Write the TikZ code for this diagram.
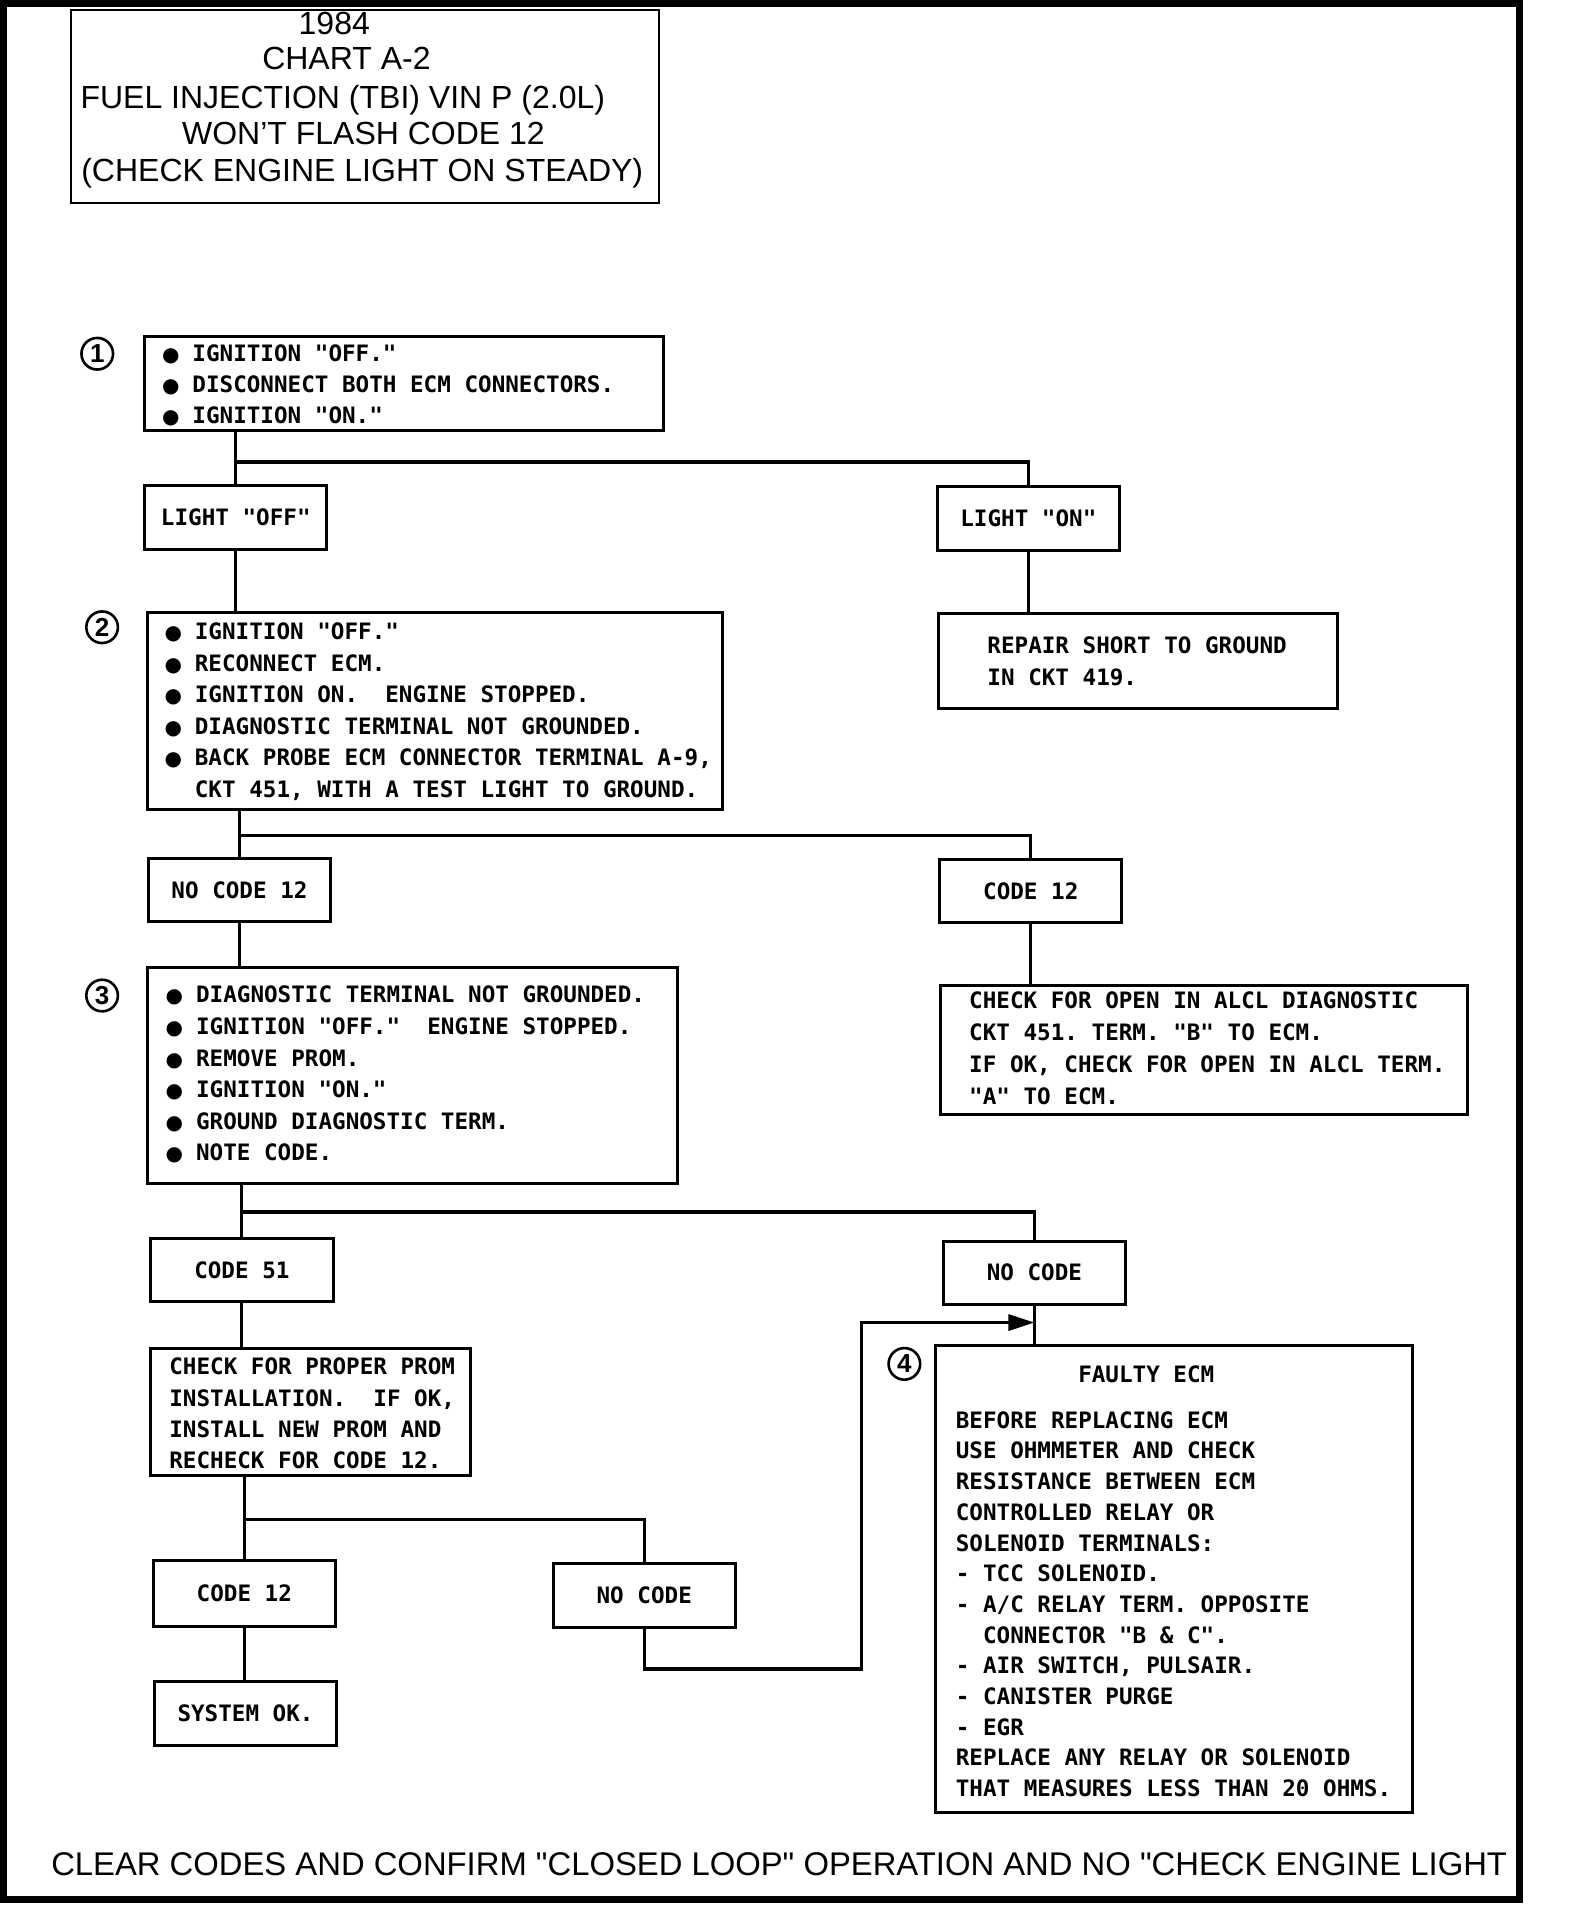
\documentclass[tikz,border=0pt]{standalone}
\usepackage{fontspec}
\usetikzlibrary{fit,arrows.meta}
\setmainfont{Liberation Sans}
\newfontfamily\monob{DejaVu Sans Mono Bold}
\newfontfamily\bulfont{DejaVu Sans}
\newlength\uu \setlength\uu{0.6078pt}
\frenchspacing
\newcommand\mlines[2]{\vtop{\baselineskip=#1\uu\lineskiplimit=-100pt\lineskip=0pt\halign{##\hfil\cr#2\crcr}}}
\newcommand\blt{\makebox[25\uu][l]{\bulfont\fontsize{10}{10}\selectfont ●}}
\newcommand\nob{\hspace*{25\uu}}
\begin{document}
\begin{tikzpicture}[x=\uu,y=-\uu,
 box/.style={draw,line width=1.5pt,inner sep=0pt},
 sbox/.style={box,lbl,minimum width=150\uu,minimum height=53\uu},
 conn/.style={line width=1.6pt},
 lbl/.style={font=\monob\fontsize{11.3}{15.8}\selectfont},
 txt/.style={lbl,anchor=base west,inner sep=0pt},
 numc/.style={draw,circle,line width=1.3pt,minimum size=26\uu,inner sep=0pt,font=\bfseries\fontsize{13}{13}\selectfont},
 ttl/.style={anchor=base,inner sep=0pt,font=\fontsize{16}{16}\selectfont}]
\useasboundingbox (0,0) rectangle (1290,1568);
\draw[line width=3.5pt] (3,2.5) rectangle (1250,1563);
% title
\node[draw,line width=1pt,inner sep=0pt,fit={(58,8)(542,167)}] (title) {};
\node[ttl] (t1) at (275,28) {1984};
\node[ttl] (t2) at (285,57) {CHART A-2};
\node[ttl] (t3) at (282,89) {FUEL INJECTION (TBI) VIN P (2.0L)};
\node[ttl] (t4) at (299,119) {WON'T FLASH CODE 12};
\node[ttl] (t5) at (298,149) {(CHECK ENGINE LIGHT ON STEADY)};
% step 1
\node[box,fit={(119,277)(546,354)}] (s1) {};
\node[numc] (n1) at (80,291) {1};
\node[txt] (s1t) at (133,297) {\mlines{25.5}{\blt IGNITION "OFF."\cr
 \blt DISCONNECT BOTH ECM CONNECTORS.\cr
 \blt IGNITION "ON."}};
\node[sbox] (lo) at (194,425.5) {LIGHT "OFF"};
\node[sbox] (lon) at (846,426.5) {LIGHT "ON"};
\node[box,fit={(772,505)(1100,583)}] (rep) {};
\node[txt] (rept) at (812,538) {\mlines{26}{REPAIR SHORT TO GROUND\cr IN CKT 419.}};
% step 2
\node[box,fit={(121,504)(594,666)}] (s2) {};
\node[numc] (n2) at (84,516) {2};
\node[txt] (s2t) at (135,526) {\mlines{26}{\blt IGNITION "OFF."\cr
 \blt RECONNECT ECM.\cr
 \blt IGNITION ON.~~ENGINE STOPPED.\cr
 \blt DIAGNOSTIC TERMINAL NOT GROUNDED.\cr
 \blt BACK PROBE ECM CONNECTOR TERMINAL A-9,\cr
 \nob CKT 451, WITH A TEST LIGHT TO GROUND.}};
\node[sbox,minimum height=52\uu] (nc12) at (197,732) {NO CODE 12};
\node[sbox,minimum height=52\uu] (c12) at (848,733) {CODE 12};
\node[box,fit={(774,811)(1207,917)}] (open) {};
\node[txt] (opent) at (797,830) {\mlines{26.3}{CHECK FOR OPEN IN ALCL DIAGNOSTIC\cr
 CKT 451. TERM. "B" TO ECM.\cr
 IF OK, CHECK FOR OPEN IN ALCL TERM.\cr
 "A" TO ECM.}};
% step 3
\node[box,fit={(121,796)(557,974)}] (s3) {};
\node[numc] (n3) at (84,819) {3};
\node[txt] (s3t) at (136,825) {\mlines{26}{\blt DIAGNOSTIC TERMINAL NOT GROUNDED.\cr
 \blt IGNITION "OFF."~~ENGINE STOPPED.\cr
 \blt REMOVE PROM.\cr
 \blt IGNITION "ON."\cr
 \blt GROUND DIAGNOSTIC TERM.\cr
 \blt NOTE CODE.}};
\node[sbox,minimum height=52\uu] (c51) at (199,1045) {CODE 51};
\node[sbox,minimum height=52\uu] (nc1) at (851,1047) {NO CODE};
\node[box,fit={(124,1109)(387,1214)}] (prom) {};
\node[txt] (promt) at (139,1131) {\mlines{25.7}{CHECK FOR PROPER PROM\cr
 INSTALLATION.~~IF OK,\cr
 INSTALL NEW PROM AND\cr
 RECHECK FOR CODE 12.}};
\node[sbox,minimum height=54\uu] (c12b) at (201,1311) {CODE 12};
\node[sbox] (nc2) at (530,1312.5) {NO CODE};
\node[sbox] (ok) at (202,1409.5) {SYSTEM OK.};
% step 4
\node[box,fit={(770,1107)(1162,1491)}] (fe) {};
\node[numc] (n4) at (744,1122) {4};
\node[lbl,anchor=base,inner sep=0pt] (fet) at (943,1137) {FAULTY ECM};
\node[txt] (fetx) at (786,1175) {\mlines{25.25}{BEFORE REPLACING ECM\cr
 USE OHMMETER AND CHECK\cr
 RESISTANCE BETWEEN ECM\cr
 CONTROLLED RELAY OR\cr
 SOLENOID TERMINALS:\cr
 - TCC SOLENOID.\cr
 - A/C RELAY TERM. OPPOSITE\cr
 \phantom{--}CONNECTOR "B \& C".\cr
 - AIR SWITCH, PULSAIR.\cr
 - CANISTER PURGE\cr
 - EGR\cr
 REPLACE ANY RELAY OR SOLENOID\cr
 THAT MEASURES LESS THAN 20 OHMS.}};
% footer
\node[ttl,font=\fontsize{16.4}{16.4}\selectfont] (foot) at (641,1543) {CLEAR CODES AND CONFIRM \textquotedbl CLOSED LOOP\textquotedbl\ OPERATION AND NO \textquotedbl CHECK ENGINE LIGHT};
% connectors
\coordinate (j1) at (194,380);
\draw[conn] (lo.north |- s1.south) -- (lo.north);
\draw[conn] (j1) -| (lon.north);
\draw[conn] (lon.south) -- (lon.south |- rep.north);
\draw[conn] (lo.south) -- (lo.south |- s2.north);
\coordinate (j2) at (197,687);
\draw[conn] (nc12.north |- s2.south) -- (nc12.north);
\draw[conn] (j2) -| (c12.north);
\draw[conn] (c12.south) -- (c12.south |- open.north);
\draw[conn] (nc12.south) -- (nc12.south |- s3.north);
\coordinate (j3) at (199,997);
\draw[conn] (c51.north |- s3.south) -- (c51.north);
\draw[conn] (j3) -| (nc1.north);
\draw[conn] (nc1.south) -- (nc1.south |- fe.north);
\draw[conn] (c51.south) -- (c51.south |- prom.north);
\coordinate (j4) at (201,1250);
\draw[conn] (c12b.north |- prom.south) -- (c12b.north);
\draw[conn] (j4) -| (nc2.north);
\draw[conn] (c12b.south) -- (c12b.south |- ok.north);
\coordinate (r1) at (709,1373);
\coordinate (r2) at (709,1088);
\draw[conn,-{Triangle[length=13pt,width=8pt]}] (nc2.south) |- (r1) -- (r2) -- (nc1.south |- r2);
\end{tikzpicture}
\end{document}
